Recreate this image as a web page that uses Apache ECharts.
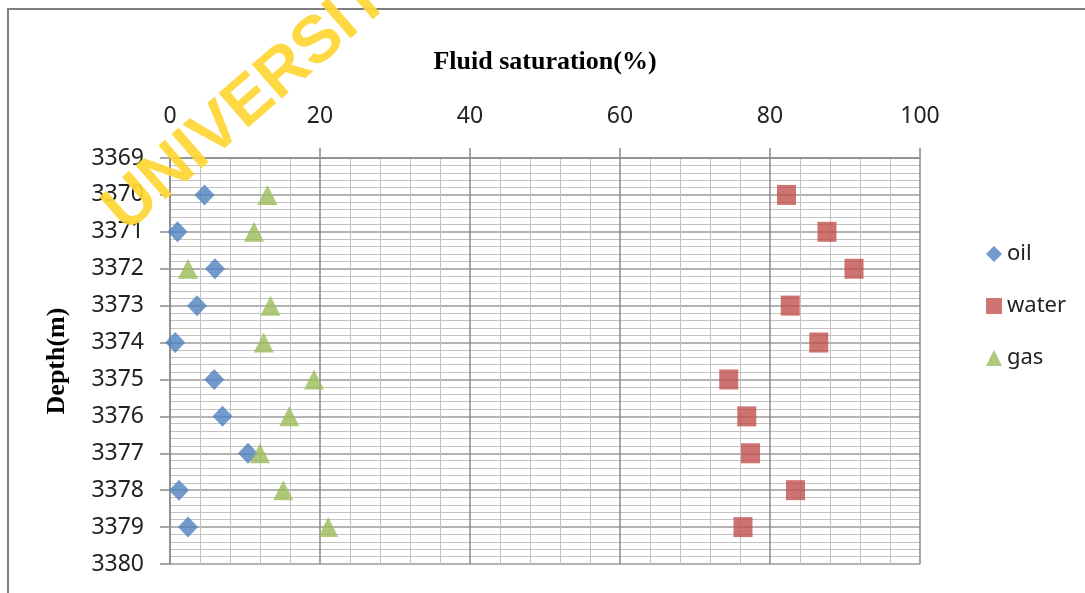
<!DOCTYPE html>
<html>
<head>
<meta charset="utf-8">
<script src="https://cdn.jsdelivr.net/npm/echarts@6/dist/echarts.min.js"></script>
<style>
html,body{margin:0;padding:0;background:#fff;}
#chart{width:1085px;height:593px;}
</style>
</head>
<body>
<div id="chart"></div>
<script>
const depths = [3370, 3371, 3372, 3373, 3374, 3375, 3376, 3377, 3378, 3379];
const oil   = [4.6, 1.0, 6.0, 3.6, 0.7, 5.9, 7.0, 10.4, 1.2, 2.4];
const water = [82.2, 87.6, 91.2, 82.7, 86.5, 74.5, 76.9, 77.4, 83.4, 76.4];
const gas   = [13.0, 11.2, 2.4, 13.4, 12.5, 19.2, 15.9, 12.0, 15.1, 21.1];
const seriesNames = ['oil', 'water', 'gas'];
const xTitle = 'Fluid saturation(%)';
const yTitle = 'Depth(m)';
const watermark = 'UNIVERSITY';

const pairs = (vals) => vals.map((v, i) => [v, depths[i]]);

const chart = echarts.init(document.getElementById('chart'));
const labelFont = {fontFamily: 'Noto Sans', fontSize: 23, color: '#222'};
const nameFont = {fontFamily: 'Liberation Serif', fontWeight: 'bold', fontSize: 26, color: '#000'};

chart.setOption({
  animation: false,
  backgroundColor: '#fff',
  grid: {left: 170, right: 165, top: 158, bottom: 29, containLabel: false},
  xAxis: {
    type: 'value', position: 'top', min: 0, max: 100, interval: 20,
    name: xTitle, nameLocation: 'middle', nameGap: 83, nameTextStyle: nameFont,
    axisLine: {show: true, lineStyle: {color: '#8a8a8a', width: 1.5}},
    axisTick: {show: true, length: 10, lineStyle: {color: '#8a8a8a', width: 1.5}},
    axisLabel: Object.assign({margin: 30, formatter: (v) => String(v)}, labelFont),
    splitLine: {show: true, lineStyle: {color: '#8a8a8a', width: 1.5}},
    minorTick: {show: false, splitNumber: 5},
    minorSplitLine: {show: true, lineStyle: {color: '#c2c2c2', width: 1}}
  },
  yAxis: {
    type: 'value', inverse: true, min: 3369, max: 3380, interval: 1,
    name: yTitle, nameLocation: 'middle', nameGap: 100, nameRotate: 90, nameTextStyle: nameFont,
    axisLine: {show: true, lineStyle: {color: '#8a8a8a', width: 1.5}},
    axisTick: {show: true, length: 10, lineStyle: {color: '#8a8a8a', width: 1.5}},
    axisLabel: Object.assign({margin: 26, formatter: (v) => String(v)}, labelFont),
    splitLine: {show: true, lineStyle: {color: '#9a9a9a', width: 1.5}},
    minorTick: {show: false, splitNumber: 5},
    minorSplitLine: {show: true, lineStyle: {color: '#c2c2c2', width: 1}}
  },
  legend: {
    orient: 'vertical', left: 981, top: 238, itemGap: 30,
    itemWidth: 16, itemHeight: 16,
    textStyle: {fontFamily: 'Noto Sans', fontSize: 22, color: '#222', lineHeight: 22},
    data: [
      {name: seriesNames[0], icon: 'diamond'},
      {name: seriesNames[1], icon: 'rect'},
      {name: seriesNames[2], icon: 'triangle'}
    ]
  },
  series: [
    {name: seriesNames[0], type: 'scatter', data: pairs(oil), symbol: 'diamond', symbolSize: [20, 21],
     itemStyle: {color: '#4F81BD'}},
    {name: seriesNames[1], type: 'scatter', data: pairs(water), symbol: 'rect', symbolSize: [19, 20],
     itemStyle: {color: '#C0504D'}},
    {name: seriesNames[2], type: 'scatter', data: pairs(gas), symbol: 'triangle', symbolSize: [20, 20],
     itemStyle: {color: '#9BBB59'}}
  ],
  graphic: [
    {type: 'rect', shape: {x: 8, y: 9, width: 1100, height: 620}, z: 0,
     style: {fill: 'none', stroke: '#808080', lineWidth: 2}},
    {type: 'text', x: 114, y: 220, rotation: 41 * Math.PI / 180, z: 100,
     style: {text: watermark, fill: '#FFD633', opacity: 0.92, font: 'bold 66px "Liberation Sans"',
             textAlign: 'left', textVerticalAlign: 'middle'}}
  ]
});
</script>
</body>
</html>
